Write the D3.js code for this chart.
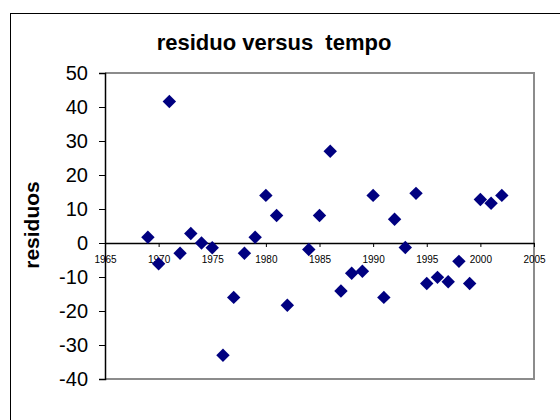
<!DOCTYPE html>
<html>
<head>
<meta charset="utf-8">
<script src="https://cdn.jsdelivr.net/npm/d3@7"></script>
<style>
  html, body { margin: 0; padding: 0; background: #fff; }
  svg { display: block; }
</style>
</head>
<body>
<svg id="chart" width="560" height="420"></svg>
<script>
// Residuals of the fitted model, one per year (1983 absent)
const years = [1969, 1970, 1971, 1972, 1973, 1974, 1975, 1976, 1977, 1978, 1979,
               1980, 1981, 1982, 1984, 1985, 1986, 1987, 1988, 1989, 1990, 1991,
               1992, 1993, 1994, 1995, 1996, 1997, 1998, 1999, 2000, 2001, 2002];
const residuals = [1.7, -6.1, 41.6, -3.0, 2.8, 0.0, -1.4, -33.0, -16.0, -3.0, 1.7,
                   14.0, 8.1, -18.3, -1.9, 8.1, 27.0, -14.1, -8.9, -8.3, 14.0, -16.0,
                   7.0, -1.3, 14.6, -11.9, -10.1, -11.4, -5.4, -11.9, 12.8, 11.7, 14.0];
const xTicks = [1965, 1970, 1975, 1980, 1985, 1990, 1995, 2000, 2005];
const yTicks = [-40, -30, -20, -10, 0, 10, 20, 30, 40, 50];

const titleText = "residuo versus\u00a0 tempo";
const yLabel = "residuos";

const svg = d3.select("#chart");
const plot = { left: 105, right: 534, top: 73, bottom: 379 };
const font = "Arial, 'Liberation Sans', sans-serif";

const x = d3.scaleLinear().domain([1965, 2005]).range([plot.left, plot.right]);
const y = d3.scaleLinear().domain([-40, 50]).range([plot.bottom, plot.top]);

// outer chart frame
svg.append("rect")
  .attr("x", 10.5).attr("y", 13.5)
  .attr("width", 600).attr("height", 500)
  .attr("fill", "none").attr("stroke", "#000").attr("stroke-width", 1);

// plot area border (grey top/right/bottom)
svg.append("path")
  .attr("d", `M${plot.left},${plot.top}H${plot.right}V${plot.bottom}H${plot.left}`)
  .attr("fill", "none").attr("stroke", "#8c8c8c").attr("stroke-width", 2);

// title
svg.append("text")
  .attr("x", 274).attr("y", 50)
  .attr("text-anchor", "middle")
  .attr("font-family", font)
  .attr("font-weight", "bold")
  .attr("font-size", 22)
  .text(titleText);

// y axis label
svg.append("text")
  .attr("transform", "translate(39,225) rotate(-90)")
  .attr("text-anchor", "middle")
  .attr("font-family", font)
  .attr("font-weight", "bold")
  .attr("font-size", 21)
  .text(yLabel);

// y axis
const yAxis = d3.axisLeft(y).tickValues(yTicks).tickSize(6).tickPadding(11)
  .tickFormat(d => String(d));
const gy = svg.append("g")
  .attr("transform", `translate(${plot.left},0)`)
  .call(yAxis);
gy.select(".domain").attr("stroke", "#000").attr("stroke-width", 1.5);
gy.selectAll(".tick line").attr("stroke", "#000");
gy.selectAll(".tick text")
  .attr("font-family", font)
  .attr("font-size", 20)
  .attr("fill", "#000");

// x axis along zero
const xAxis = d3.axisBottom(x).tickValues(xTicks).tickSize(4).tickPadding(9).tickSizeOuter(0)
  .tickFormat(d => String(d));
const gx = svg.append("g")
  .attr("transform", `translate(0,${y(0)})`)
  .call(xAxis);
gx.select(".domain").attr("stroke", "#000").attr("stroke-width", 1.5);
gx.selectAll(".tick line").attr("stroke", "#000");
gx.selectAll(".tick text")
  .attr("font-family", font)
  .attr("font-size", 10)
  .attr("fill", "#000");

// data points as diamonds
const diamond = d3.symbol().type(d3.symbolSquare).size(90);
svg.append("g").selectAll("path")
  .data(years.map((yr, i) => ({ yr, v: residuals[i] })))
  .join("path")
  .attr("d", diamond)
  .attr("transform", d => `translate(${x(d.yr)},${y(d.v)}) rotate(45)`)
  .attr("fill", "#000080");
</script>
</body>
</html>
